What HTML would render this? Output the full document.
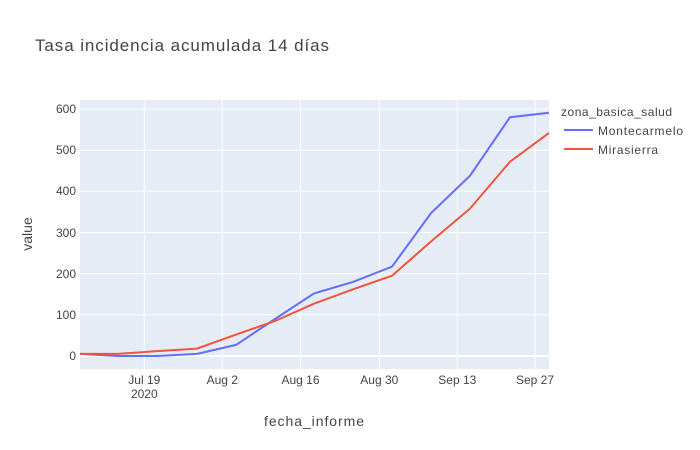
<!DOCTYPE html>
<html><head><meta charset="utf-8"><style>body{margin:0;background:#fff}svg{display:block}text{font-family:"Liberation Sans",Arial,sans-serif;fill:#444}</style></head><body>
<svg width="700" height="450" xmlns="http://www.w3.org/2000/svg">
<rect width="700" height="450" fill="#fff"/>
<rect x="80" y="100" width="469" height="269" fill="#e5ecf6"/>
<g stroke="#fff" stroke-width="1">
<line x1="80" x2="549" y1="356" y2="356" stroke-width="2"/>
<line x1="80" x2="549" y1="314.8" y2="314.8"/>
<line x1="80" x2="549" y1="273.7" y2="273.7"/>
<line x1="80" x2="549" y1="232.5" y2="232.5"/>
<line x1="80" x2="549" y1="191.3" y2="191.3"/>
<line x1="80" x2="549" y1="150.2" y2="150.2"/>
<line x1="80" x2="549" y1="109" y2="109"/>
<line x1="144.3" x2="144.3" y1="100" y2="369"/>
<line x1="222.3" x2="222.3" y1="100" y2="369"/>
<line x1="300.5" x2="300.5" y1="100" y2="369"/>
<line x1="379.3" x2="379.3" y1="100" y2="369"/>
<line x1="457.3" x2="457.3" y1="100" y2="369"/>
<line x1="535" x2="535" y1="100" y2="369"/>
</g>
<polyline fill="none" stroke="#636efa" stroke-width="2" points="80,353.9 118,356 157,356 197,353.9 236,344.9 275,319 314,293.4 353,281.9 392,266.7 431,213.1 470,175.7 510,117.2 549,112.7"/>
<polyline fill="none" stroke="#ef553b" stroke-width="2" points="80,353.9 118,353.9 157,351.1 197,348.6 236,334.6 275,321 314,303.7 353,289.3 392,275.7 431,241.5 470,208.6 510,161.7 549,132.9"/>
<g font-size="12" text-anchor="end">
<text x="76" y="360">0</text><text x="76" y="319">100</text><text x="76" y="278">200</text><text x="76" y="237">300</text><text x="76" y="195">400</text><text x="76" y="154">500</text><text x="76" y="113">600</text>
</g>
<g font-size="12" text-anchor="middle">
<text x="144.3" y="384">Jul 19</text><text x="144.3" y="398">2020</text>
<text x="222.3" y="384">Aug 2</text><text x="300.5" y="384">Aug 16</text><text x="379.3" y="384">Aug 30</text><text x="457.3" y="384">Sep 13</text><text x="535" y="384">Sep 27</text>
</g>
<text x="264" y="426" font-size="14" textLength="100">fecha_informe</text>
<text x="32" y="234" font-size="14" text-anchor="middle" transform="rotate(-90 32 234)">value</text>
<text x="35" y="51" font-size="17" textLength="294">Tasa incidencia acumulada 14 días</text>
<text x="561" y="116" font-size="12" textLength="111">zona_basica_salud</text>
<line x1="564" x2="593" y1="130" y2="130" stroke="#636efa" stroke-width="2"/>
<text x="598" y="135" font-size="12" textLength="85">Montecarmelo</text>
<line x1="564" x2="593" y1="149" y2="149" stroke="#ef553b" stroke-width="2"/>
<text x="598" y="154" font-size="12" textLength="60">Mirasierra</text>
</svg>
</body></html>
